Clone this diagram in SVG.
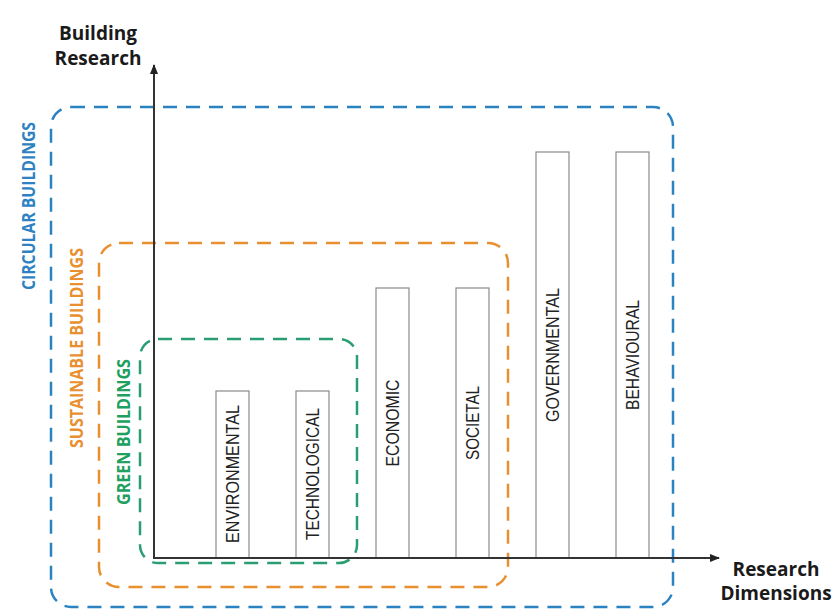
<svg xmlns="http://www.w3.org/2000/svg" width="832" height="610" viewBox="0 0 832 610">
<style>
.box{fill:none;stroke-width:2.5;stroke-dasharray:14 9;}
.bar{fill:#fff;stroke:#8a8a8a;stroke-width:1.2;}
.bl{font-family:"Liberation Sans",Arial,sans-serif;font-size:17.5px;fill:#222;text-anchor:middle;dominant-baseline:central;}
.gl{font-family:"Open Sans","Liberation Sans",sans-serif;font-weight:bold;font-size:17px;text-anchor:middle;dominant-baseline:central;}
.ax{font-family:"Open Sans","Liberation Sans",sans-serif;font-weight:bold;font-size:19px;fill:#1a1a1a;text-anchor:middle;}
.axis{stroke:#333;stroke-width:2;fill:none;}
</style>
<defs>
<marker id="arr" viewBox="0 0 10 10" refX="9" refY="5" markerWidth="10" markerHeight="10" markerUnits="userSpaceOnUse" orient="auto">
<path d="M0,1 L10,5 L0,9 z" fill="#222"/>
</marker>
</defs>
<rect width="832" height="610" fill="#fff"/>
<g id="circular">
<rect class="box" x="51" y="107" width="622" height="500" rx="20" stroke="#2a82c0"/>
<text class="gl" fill="#2e82c2" transform="translate(28,206) rotate(-90)" textLength="168" lengthAdjust="spacingAndGlyphs">CIRCULAR BUILDINGS</text>
</g>
<g id="sustainable">
<rect class="box" x="99" y="243" width="409" height="344" rx="20" stroke="#e8902f"/>
<text class="gl" fill="#e8902f" transform="translate(76,348) rotate(-90)" textLength="200" lengthAdjust="spacingAndGlyphs">SUSTAINABLE BUILDINGS</text>
</g>
<g id="green">
<rect class="box" x="140" y="339" width="217" height="224" rx="18" stroke="#2a9e72"/>
<text class="gl" fill="#20a060" transform="translate(123,432) rotate(-90)" textLength="146" lengthAdjust="spacingAndGlyphs">GREEN BUILDINGS</text>
</g>
<g id="bars">
<g id="environmental"><rect class="bar" x="216" y="391" width="33" height="167"/><text class="bl" transform="translate(232.5,474) rotate(-90)" textLength="138" lengthAdjust="spacingAndGlyphs">ENVIRONMENTAL</text></g>
<g id="technological"><rect class="bar" x="296" y="391" width="33" height="167"/><text class="bl" transform="translate(312.5,474) rotate(-90)" textLength="132" lengthAdjust="spacingAndGlyphs">TECHNOLOGICAL</text></g>
<g id="economic"><rect class="bar" x="376" y="288" width="33" height="270"/><text class="bl" transform="translate(392.5,423) rotate(-90)" textLength="87" lengthAdjust="spacingAndGlyphs">ECONOMIC</text></g>
<g id="societal"><rect class="bar" x="456" y="288" width="33" height="270"/><text class="bl" transform="translate(472.5,423) rotate(-90)" textLength="74" lengthAdjust="spacingAndGlyphs">SOCIETAL</text></g>
<g id="governmental"><rect class="bar" x="536" y="152" width="33" height="406"/><text class="bl" transform="translate(552.5,355) rotate(-90)" textLength="134" lengthAdjust="spacingAndGlyphs">GOVERNMENTAL</text></g>
<g id="behavioural"><rect class="bar" x="616" y="152" width="33" height="406"/><text class="bl" transform="translate(632.5,355) rotate(-90)" textLength="110" lengthAdjust="spacingAndGlyphs">BEHAVIOURAL</text></g>
</g>
<g id="connectors">
<line class="axis" x1="154" y1="559" x2="154" y2="65" marker-end="url(#arr)"/>
<line class="axis" x1="153" y1="558" x2="719" y2="558" marker-end="url(#arr)"/>
</g>
<g id="y-label">
<text class="ax" x="98" y="40">Building</text>
<text class="ax" x="98" y="65">Research</text>
</g>
<g id="x-label">
<text class="ax" x="776" y="576">Research</text>
<text class="ax" x="776" y="600">Dimensions</text>
</g>
</svg>
